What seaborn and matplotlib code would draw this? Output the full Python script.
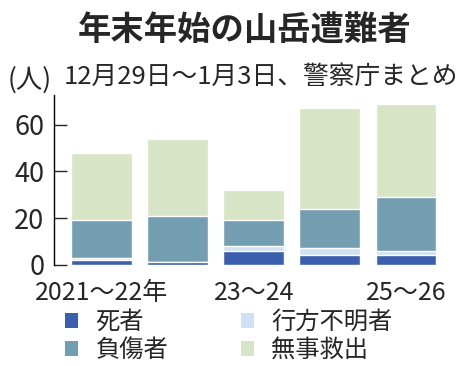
#%% Loading libraries
import matplotlib
matplotlib.use("Agg")
import seaborn as sns
import pandas as pd
import matplotlib.pyplot as plt
from matplotlib.patches import Patch

#%% Data
seasons = ["2021～22年", "22～23", "23～24", "24～25", "25～26"]
dead = [2, 1, 6, 4, 4]
missing = [1, 0, 2, 3, 2]
injured = [16, 20, 11, 17, 23]
rescued = [29, 33, 13, 43, 40]
tick_pos = [0, 2, 4]
tick_labels = ["2021～22年", "23～24", "25～26"]

names = ["死者", "行方不明者", "負傷者", "無事救出"]
colors = ["#3b5fae", "#cfe2f5", "#739db1", "#d8e4c6"]

df = pd.DataFrame({"season": seasons, "死者": dead, "行方不明者": missing,
                   "負傷者": injured, "無事救出": rescued})
cum = df[names].cumsum(axis=1)
cum["season"] = df["season"]

#%% Theming
sns.set_style("white")
plt.rcParams["font.family"] = ["Noto Sans CJK JP", "DejaVu Sans"]

fig = plt.figure(figsize=(4.67, 3.66), dpi=100)
ax = fig.add_axes([54 / 467, 101.3 / 366, 390 / 467, 169.7 / 366])

# stacked bars: draw the tallest (cumulative) first
for name, col in zip(names[::-1], colors[::-1]):
    sns.barplot(data=cum, x="season", y=name, color=col, width=0.8,
                saturation=1, ax=ax, order=seasons)

ax.set_xlim(-0.625, 4.5)
ax.set_ylim(0, 72.7)
ax.set_yticks([0, 20, 40, 60])
ax.set_xticks(tick_pos)
ax.set_xticklabels(tick_labels)
ax.set_xlabel("")
ax.set_ylabel("")
for s in ["top", "right", "bottom"]:
    ax.spines[s].set_visible(False)
ax.spines["left"].set_color("black")
ax.spines["left"].set_linewidth(1)
ax.tick_params(axis="y", direction="in", length=9, width=1, labelsize=19.5,
               pad=7, left=True)
ax.tick_params(axis="x", length=0, labelsize=18, pad=11)

# Titles
fig.text(0.523, 0.915, "年末年始の山岳遭難者", ha="center", va="center",
         fontsize=24, fontweight="bold")
fig.text(64 / 467, 1 - 77 / 366, "12月29日～1月3日、警察庁まとめ", ha="left",
         va="center", fontsize=18.5)
fig.text(8 / 467, 1 - 80 / 366, "(人)", ha="left", va="center", fontsize=19)

# Legend (row-major order: 死者, 行方不明者 / 負傷者, 無事救出)
order = [0, 2, 1, 3]
handles = [Patch(facecolor=colors[i], edgecolor="none") for i in order]
labels = [names[i] for i in order]
fig.legend(handles, labels, ncol=2, loc="center", bbox_to_anchor=(0.49, 1 - 336 / 366),
           frameon=False, fontsize=17.5, handlelength=0.55, handleheight=0.55,
           handletextpad=0.7, columnspacing=3.0, labelspacing=0.1)

plt.savefig("out.png", dpi=100)
